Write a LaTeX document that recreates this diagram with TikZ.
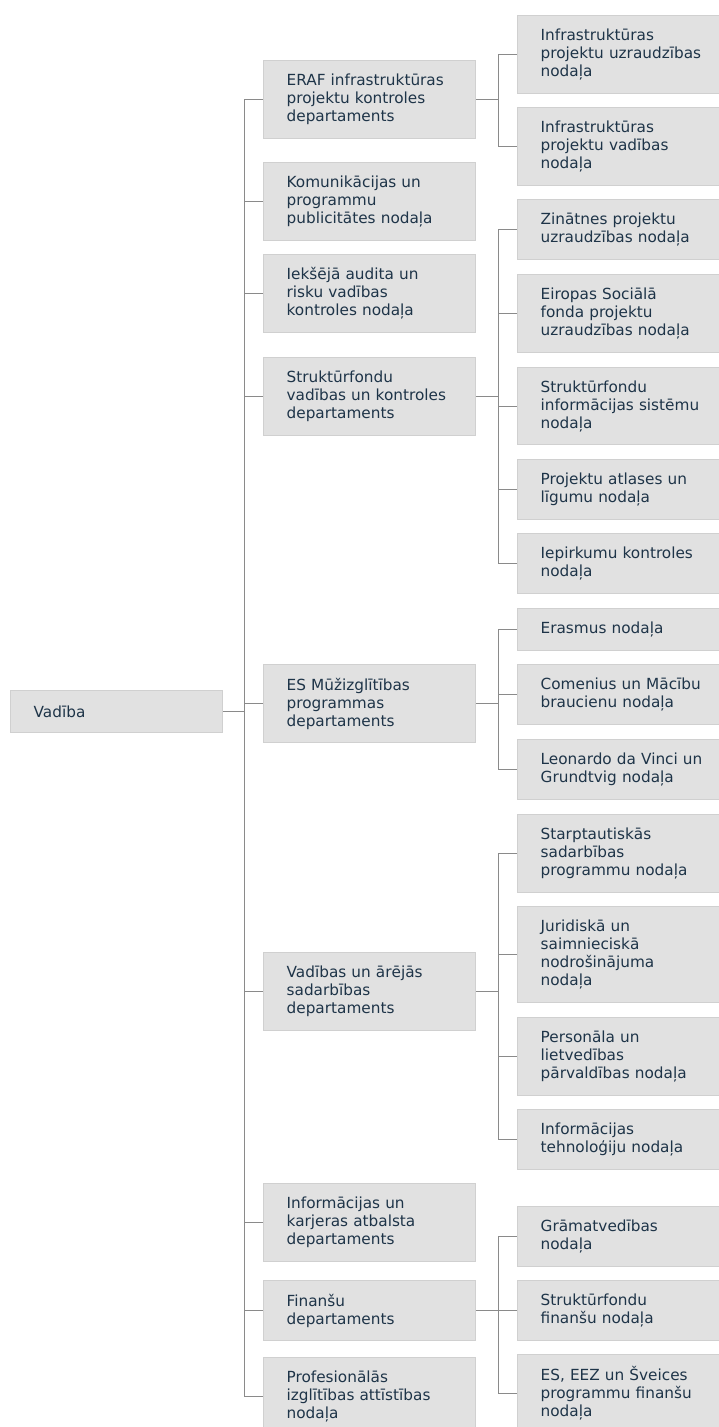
\documentclass[tikz,border=0pt]{standalone}
\usepackage{fontspec}
\setmainfont{DejaVu Sans}
\definecolor{boxfill}{HTML}{E1E1E1}
\definecolor{boxline}{HTML}{D0D0D0}
\definecolor{wirec}{HTML}{8A8A8A}
\definecolor{ink}{HTML}{1E3448}
\begin{document}
\begin{tikzpicture}[x=1pt,y=-1pt,
	orgbox/.style={draw=boxline,line width=1.3pt,fill=boxfill,anchor=north west,align=left,inner xsep=23pt,inner ysep=2pt,text=ink,font=\fontsize{15.3}{18}\selectfont,minimum height=#1},
	dept/.style={orgbox=#1,text width=166pt},
	sect/.style={orgbox=#1,text width=190pt},
	wire/.style={draw=wirec,line width=1.2pt}]
	\useasboundingbox (0,0) rectangle (719,1427);
	\clip (0,0) rectangle (719,1427);
	\node[dept=42] (vadiba) at (10,690) {Vadība};
	\node[dept=78] (eraf) at (263,60) {ERAF infrastruktūras\\projektu kontroles\\departaments};
	\node[dept=78] (komun) at (263,162) {Komunikācijas un\\programmu\\publicitātes nodaļa};
	\node[dept=78] (audit) at (263,254) {Iekšējā audita un\\risku vadības\\kontroles nodaļa};
	\node[dept=78] (sfvad) at (263,357) {Struktūrfondu\\vadības un kontroles\\departaments};
	\node[dept=78] (muzizgl) at (263,664) {ES Mūžizglītības\\programmas\\departaments};
	\node[dept=78] (vadar) at (263,952) {Vadības un ārējās\\sadarbības\\departaments};
	\node[dept=78] (karj) at (263,1183) {Informācijas un\\karjeras atbalsta\\departaments};
	\node[dept=60] (fin) at (263,1280) {Finanšu\\departaments};
	\node[dept=78] (prof) at (263,1357) {Profesionālās\\izglītības attīstības\\nodaļa};
	\node[sect=78] (infuzr) at (517,15) {Infrastruktūras\\projektu uzraudzības\\nodaļa};
	\node[sect=78] (infvad) at (517,107) {Infrastruktūras\\projektu vadības\\nodaļa};
	\node[sect=60] (zin) at (517,199) {Zinātnes projektu\\uzraudzības nodaļa};
	\node[sect=78] (esf) at (517,274) {Eiropas Sociālā\\fonda projektu\\uzraudzības nodaļa};
	\node[sect=77] (sist) at (517,367) {Struktūrfondu\\informācijas sistēmu\\nodaļa};
	\node[sect=60] (atlas) at (517,459) {Projektu atlases un\\līgumu nodaļa};
	\node[sect=60] (iepirk) at (517,533) {Iepirkumu kontroles\\nodaļa};
	\node[sect=42] (erasmus) at (517,608) {Erasmus nodaļa};
	\node[sect=60] (comen) at (517,664) {Comenius un Mācību\\braucienu nodaļa};
	\node[sect=60] (leon) at (517,739) {Leonardo da Vinci un\\Grundtvig nodaļa};
	\node[sect=78] (starpt) at (517,814) {Starptautiskās\\sadarbības\\programmu nodaļa};
	\node[sect=96] (jurid) at (517,906) {Juridiskā un\\saimnieciskā\\nodrošinājuma\\nodaļa};
	\node[sect=78] (person) at (517,1017) {Personāla un\\lietvedības\\pārvaldības nodaļa};
	\node[sect=60] (inftech) at (517,1109) {Informācijas\\tehnoloģiju nodaļa};
	\node[sect=60] (gramat) at (517,1206) {Grāmatvedības\\nodaļa};
	\node[sect=60] (sffin) at (517,1280) {Struktūrfondu\\finanšu nodaļa};
	\node[sect=78] (eez) at (517,1354) {ES, EEZ un Šveices\\programmu finanšu\\nodaļa};
	\draw[wire] (vadiba.east) -- ++(21,0) coordinate (trunk);
	\draw[wire] (trunk) |- (eraf.west);
	\draw[wire] (trunk) |- (komun.west);
	\draw[wire] (trunk) |- (audit.west);
	\draw[wire] (trunk) |- (sfvad.west);
	\draw[wire] (trunk) |- (muzizgl.west);
	\draw[wire] (trunk) |- (vadar.west);
	\draw[wire] (trunk) |- (karj.west);
	\draw[wire] (trunk) |- (fin.west);
	\draw[wire] (trunk) |- (prof.west);
	\draw[wire] (eraf.east) -- ++(22,0) coordinate (erafbus);
	\draw[wire] (erafbus) |- (infuzr.west);
	\draw[wire] (erafbus) |- (infvad.west);
	\draw[wire] (sfvad.east) -- ++(22,0) coordinate (sfbus);
	\draw[wire] (sfbus) |- (zin.west);
	\draw[wire] (sfbus) |- (esf.west);
	\draw[wire] (sfbus) |- (sist.west);
	\draw[wire] (sfbus) |- (atlas.west);
	\draw[wire] (sfbus) |- (iepirk.west);
	\draw[wire] (muzizgl.east) -- ++(22,0) coordinate (muzbus);
	\draw[wire] (muzbus) |- (erasmus.west);
	\draw[wire] (muzbus) |- (comen.west);
	\draw[wire] (muzbus) |- (leon.west);
	\draw[wire] (vadar.east) -- ++(22,0) coordinate (vadbus);
	\draw[wire] (vadbus) |- (starpt.west);
	\draw[wire] (vadbus) |- (jurid.west);
	\draw[wire] (vadbus) |- (person.west);
	\draw[wire] (vadbus) |- (inftech.west);
	\draw[wire] (fin.east) -- ++(22,0) coordinate (finbus);
	\draw[wire] (finbus) |- (gramat.west);
	\draw[wire] (finbus) |- (sffin.west);
	\draw[wire] (finbus) |- (eez.west);
\end{tikzpicture}
\end{document}
